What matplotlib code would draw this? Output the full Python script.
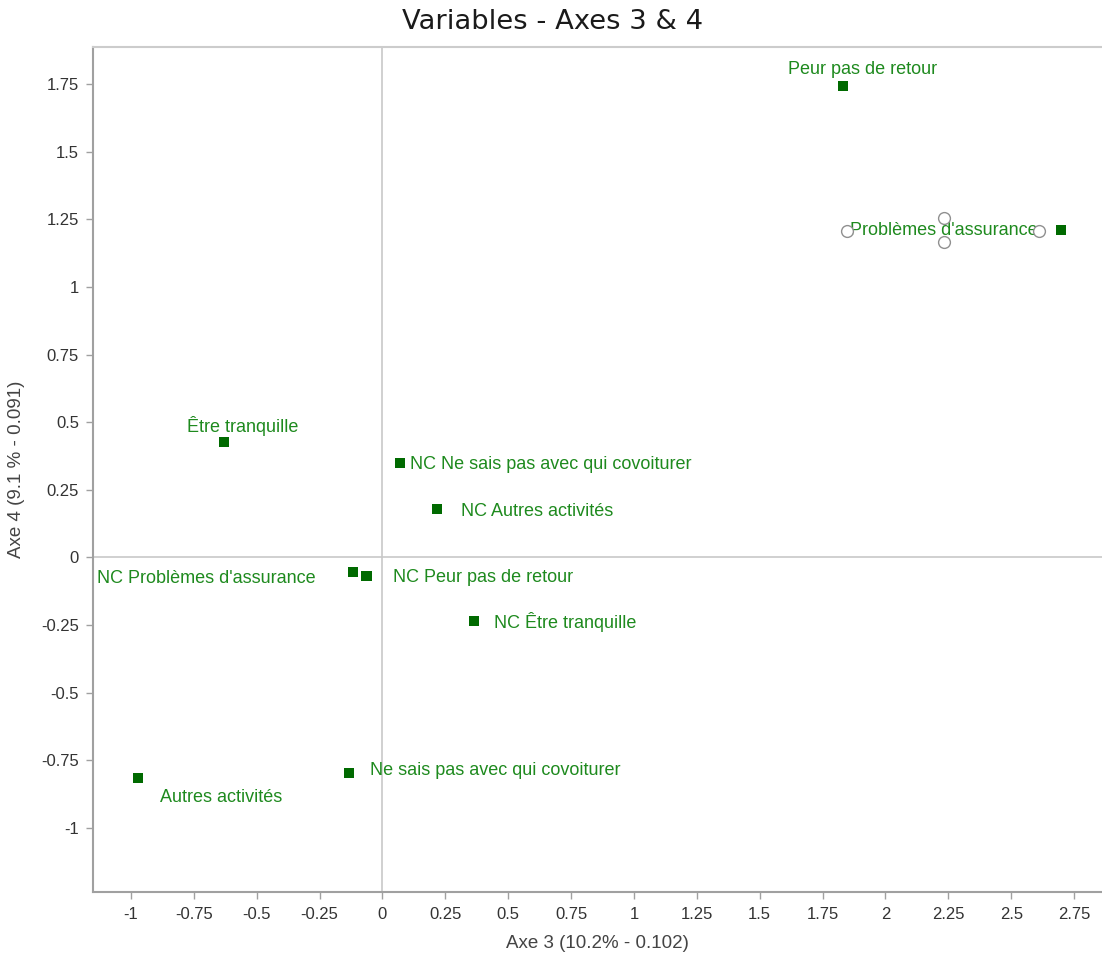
"""
Factor map of variable modalities on axes 3 and 4.
"""

import matplotlib
matplotlib.use("Agg")
import matplotlib.pyplot as plt
import matplotlib.ticker as mticker
from matplotlib import transforms

# ---------------------------------------------------------------------------
# Data: coordinates of each modality on axes 3 and 4
# ---------------------------------------------------------------------------
labels = [
    "Peur pas de retour",
    "Problèmes d'assurance",
    "Être tranquille",
    "NC Ne sais pas avec qui covoiturer",
    "NC Autres activités",
    "NC Problèmes d'assurance",
    "NC Peur pas de retour",
    "NC Être tranquille",
    "Ne sais pas avec qui covoiturer",
    "Autres activités",
]
axe3 = [1.830, 2.698, -0.630, 0.071, 0.218, -0.116, -0.064, 0.365, -0.132, -0.972]
axe4 = [1.743, 1.211, 0.427, 0.349, 0.179, -0.054, -0.068, -0.235, -0.796, -0.815]

x_ticks = [-1, -0.75, -0.5, -0.25, 0, 0.25, 0.5, 0.75, 1, 1.25, 1.5, 1.75, 2, 2.25, 2.5, 2.75]
y_ticks = [-1, -0.75, -0.5, -0.25, 0, 0.25, 0.5, 0.75, 1, 1.25, 1.5, 1.75]

# label placement: pixel offset from the point, horizontal alignment
LABEL_POS = [
    (20, 16, "center"),
    (-117, -1, "center"),
    (19, 16, "center"),
    (10, -1, "left"),
    (24, -3, "left"),
    (-38, -6, "right"),
    (27, -2, "left"),
    (20, -1, "left"),
    (21, 2, "left"),
    (22, -20, "left"),
]

COLORS = {
    "marker": "#006a00",
    "text":   "#1e8a1e",
    "axis":   "#a0a0a0",
    "zero":   "#c8c8c8",
    "tick":   "#333333",
}
FONT = ["Liberation Sans", "DejaVu Sans"]

fig = plt.figure(figsize=(11.02, 9.57), dpi=100)
ax = fig.add_axes([93 / 1102, 65 / 957, 1 - 93 / 1102, 845 / 957])

ax.set_xlim(-1.151, 2.861)
ax.set_ylim(-1.237, 1.887)

# origin lines
ax.axhline(0, color=COLORS["zero"], linewidth=1.2, zorder=1)
ax.axvline(0, color=COLORS["zero"], linewidth=1.2, zorder=1)

ax.scatter(axe3, axe4, marker="s", s=55, color=COLORS["marker"],
           edgecolors="none", zorder=3)

for name, x, y, (dx, dy, ha) in zip(labels, axe3, axe4, LABEL_POS):
    ax.annotate(name, (x, y), xytext=(dx, dy), textcoords="offset pixels",
                ha=ha, va="center", fontsize=13, family=FONT,
                color=COLORS["text"], zorder=4)

# selection handles around the "Problèmes d'assurance" label
sel = 1
dx0, dy0, _ = LABEL_POS[sel]
for hx, hy in [(-97, 0), (0, 13), (0, -11), (95, 0)]:
    tr = transforms.offset_copy(ax.transData, fig=fig, x=dx0 + hx, y=dy0 + hy,
                                units="dots")
    ax.plot(axe3[sel], axe4[sel], marker="o", markersize=8.5,
            markerfacecolor="white", markeredgecolor="#909090",
            markeredgewidth=1.0, transform=tr, zorder=5)

# ticks and spines
ax.set_xticks(x_ticks)
ax.set_yticks(y_ticks)
fmt = mticker.FuncFormatter(lambda v, _: f"{v:g}")
ax.xaxis.set_major_formatter(fmt)
ax.yaxis.set_major_formatter(fmt)
ax.tick_params(axis="both", direction="out", length=5, width=1,
               color=COLORS["axis"], labelcolor=COLORS["tick"], labelsize=12)
ax.tick_params(axis="x", pad=6)
ax.tick_params(axis="y", pad=5)
for lab in ax.get_xticklabels() + ax.get_yticklabels():
    lab.set_family(FONT)

for side in ["left", "bottom"]:
    ax.spines[side].set_color(COLORS["axis"])
    ax.spines[side].set_linewidth(1.5)
ax.spines["top"].set_color("#cccccc")
ax.spines["top"].set_linewidth(1.5)
ax.spines["right"].set_visible(False)

ax.set_xlabel("Axe 3 (10.2% - 0.102)", fontsize=13.5, family=FONT,
              color="#444444", labelpad=9)
ax.set_ylabel("Axe 4 (9.1 % - 0.091)", fontsize=13.5, family=FONT,
              color="#444444", labelpad=12)

fig.text(553 / 1102, 1 - 22 / 957, "Variables - Axes 3 & 4", ha="center",
         va="center", fontsize=19.7, family="DejaVu Sans", color="#1a1a1a")

fig.savefig("out.png", dpi=100, facecolor="white")
plt.close(fig)
